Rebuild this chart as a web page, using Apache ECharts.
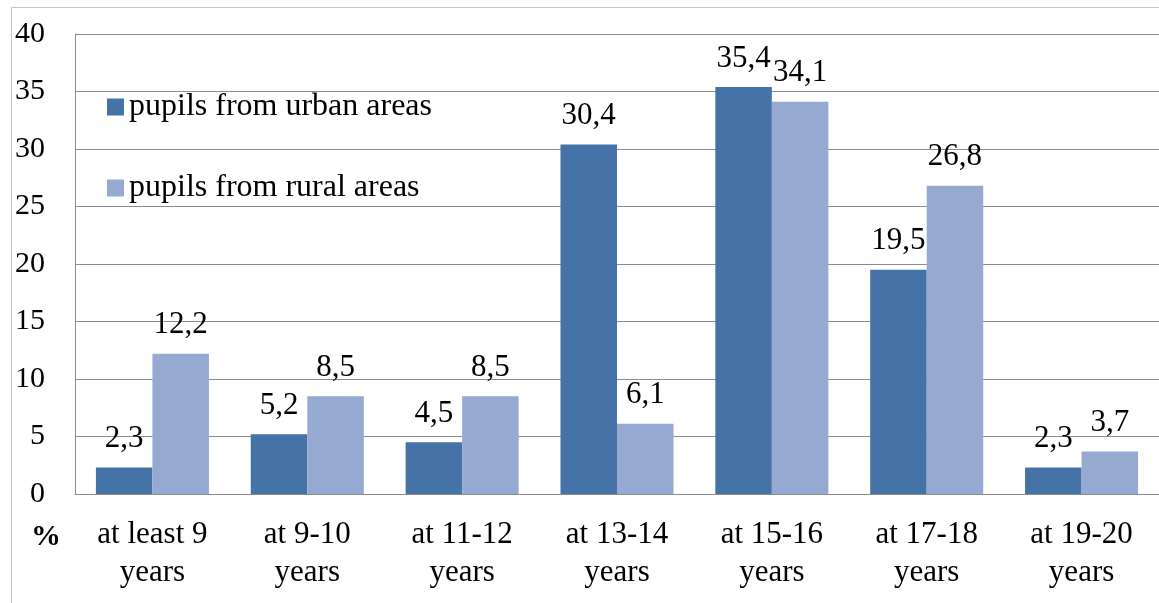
<!DOCTYPE html>
<html>
<head>
<meta charset="utf-8">
<script src="https://cdn.jsdelivr.net/npm/echarts@6/dist/echarts.min.js"></script>
<style>
html,body{margin:0;padding:0;background:#fff;}
#c{width:1159px;height:603px;}
</style>
</head>
<body>
<div id="c"></div>
<script>
var categories = ['at least 9\nyears', 'at 9-10\nyears', 'at 11-12\nyears', 'at 13-14\nyears', 'at 15-16\nyears', 'at 17-18\nyears', 'at 19-20\nyears'];
var urban = [2.3, 5.2, 4.5, 30.4, 35.4, 19.5, 2.3];
var rural = [12.2, 8.5, 8.5, 6.1, 34.1, 26.8, 3.7];
var seriesNames = ['pupils from urban areas', 'pupils from rural areas'];
var yTicks = {min: 0, max: 40, interval: 5};

var FONT = 'Liberation Serif';
var chart = echarts.init(document.getElementById('c'), null, {renderer: 'canvas'});
function fmt(p){ return String(p.value.toFixed(1)).replace('.', ','); }
var labelStyle = {show: true, position: 'top', distance: 13, fontFamily: FONT, fontSize: 31, color: '#000', formatter: fmt};
chart.setOption({
  animation: false,
  backgroundColor: '#fff',
  textStyle: {fontFamily: FONT},
  grid: {left: 75, right: -6, top: 34, bottom: 109, containLabel: false},
  legend: {
    orient: 'vertical', left: 107, top: 91, padding: 0, itemWidth: 17, itemHeight: 17, itemGap: 49,
    icon: 'rect',
    textStyle: {fontFamily: FONT, fontSize: 32, color: '#000', lineHeight: 30, padding: [0,0,0,0]},
    data: seriesNames
  },
  xAxis: {
    type: 'category', data: categories,
    axisLine: {show: true, lineStyle: {color: '#8c8c8c', width: 1}},
    axisTick: {show: false},
    axisLabel: {interval: 0, fontFamily: FONT, fontSize: 31, color: '#000', lineHeight: 38, margin: 22}
  },
  yAxis: {
    type: 'value', min: yTicks.min, max: yTicks.max, interval: yTicks.interval,
    axisLine: {show: true, lineStyle: {color: '#8c8c8c', width: 1}},
    axisTick: {show: false},
    splitLine: {show: true, lineStyle: {color: '#8c8c8c', width: 1}},
    axisLabel: {fontFamily: FONT, fontSize: 30, color: '#000', margin: 30}
  },
  series: [
    {name: seriesNames[0], type: 'bar', data: urban, barGap: '0%', barCategoryGap: '27%',
     itemStyle: {color: '#4572A7'}, label: labelStyle},
    {name: seriesNames[1], type: 'bar', data: rural, barGap: '0%', barCategoryGap: '27%',
     itemStyle: {color: '#95A9D1'}, label: labelStyle}
  ],
  graphic: [
    {type: 'rect', shape: {x: 11.5, y: 7.5, width: 1300, height: 700}, style: {fill: 'none', stroke: '#c4c4c4', lineWidth: 1}, z: -1},
    {type: 'text', left: 31, top: 522, style: {text: '%', fontFamily: FONT, fontWeight: 'bold', fontSize: 30, fill: '#000'}}
  ]
});
</script>
</body>
</html>
